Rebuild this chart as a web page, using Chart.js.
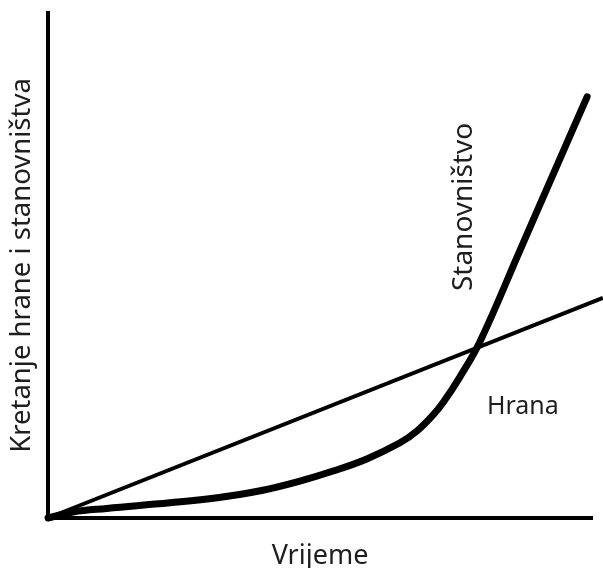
<!DOCTYPE html>
<html>
<head>
<meta charset="utf-8">
<script src="https://cdn.jsdelivr.net/npm/chart.js@4.4.0/dist/chart.umd.min.js"></script>
<style>
  html, body { margin: 0; padding: 0; background: #fff; }
  canvas { display: block; }
</style>
</head>
<body>
<canvas id="chart" width="603" height="568"></canvas>
<script>
// Stanovništvo (population) curve
const timePoints = [0, 4.6, 10.8, 22.4, 31.1, 39.5, 46.3, 52.4, 58.6, 64.7, 67.8, 70.8, 72.6, 75.7, 79.4, 86.8, 93.2, 99.1];
const population = [0, 1.2, 1.9, 3.0, 4.0, 5.5, 7.3, 9.3, 11.7, 14.9, 17.2, 20.4, 22.8, 27.9, 34.9, 53.1, 68.9, 83.4];

// Hrana (food) straight line
const foodTime = [0, 102];
const food = [0, 43.6];

const seriesNames = ["Stanovništvo", "Hrana"];
const xTitle = "Vrijeme";
const yTitle = "Kretanje hrane i stanovništva";

const FONT = "'Noto Sans', 'Open Sans', sans-serif";
const TEXT = "#1e1e1e";

// Draws the series names next to the lines
const seriesLabels = {
  id: "seriesLabels",
  afterDatasetsDraw(chart) {
    const { ctx, scales: { x, y } } = chart;
    ctx.save();
    ctx.fillStyle = TEXT;
    ctx.textAlign = "center";
    ctx.textBaseline = "middle";
    // Stanovništvo, rotated
    ctx.save();
    ctx.font = "28px " + FONT;
    ctx.translate(x.getPixelForValue(76.5), y.getPixelForValue(61.6));
    ctx.rotate(-Math.PI / 2);
    ctx.fillText(seriesNames[0], 0, 0);
    ctx.restore();
    // Hrana
    ctx.font = "25px " + FONT;
    ctx.fillText(seriesNames[1], x.getPixelForValue(87.3), y.getPixelForValue(22.0));
    ctx.restore();
  }
};

const ctx = document.getElementById("chart").getContext("2d");
new Chart(ctx, {
  type: "line",
  data: {
    datasets: [
      {
        label: seriesNames[0],
        data: timePoints.map((t, i) => ({ x: t, y: population[i] })),
        borderColor: "#000",
        borderWidth: 7,
        pointRadius: 0,
        tension: 0.4,
        borderCapStyle: "round",
        clip: false,
      },
      {
        label: seriesNames[1],
        data: foodTime.map((t, i) => ({ x: t, y: food[i] })),
        borderColor: "#000",
        borderWidth: 4,
        pointRadius: 0,
        clip: false,
      },
    ],
  },
  options: {
    responsive: false,
    animation: false,
    devicePixelRatio: 1,
    layout: { padding: { top: 13, right: 11, left: 0, bottom: 0 } },
    plugins: {
      legend: { display: false },
      tooltip: { enabled: false },
    },
    scales: {
      x: {
        type: "linear",
        min: 0,
        max: 100,
        grid: { display: false },
        border: { color: "#000", width: 4 },
        ticks: { display: false },
        title: {
          display: true,
          text: xTitle,
          color: TEXT,
          font: { family: FONT, size: 27 },
          padding: { top: 0, bottom: -5 },
        },
        afterFit: (axis) => { axis.height = 50; },
      },
      y: {
        min: 0,
        max: 100,
        grid: { display: false },
        border: { color: "#000", width: 4 },
        ticks: { display: false },
        title: {
          display: true,
          text: yTitle,
          color: TEXT,
          font: { family: FONT, size: 27.5 },
          padding: { top: 6, bottom: 0 },
        },
        afterFit: (axis) => { axis.width = 48; },
      },
    },
  },
  plugins: [seriesLabels],
});
</script>
</body>
</html>
